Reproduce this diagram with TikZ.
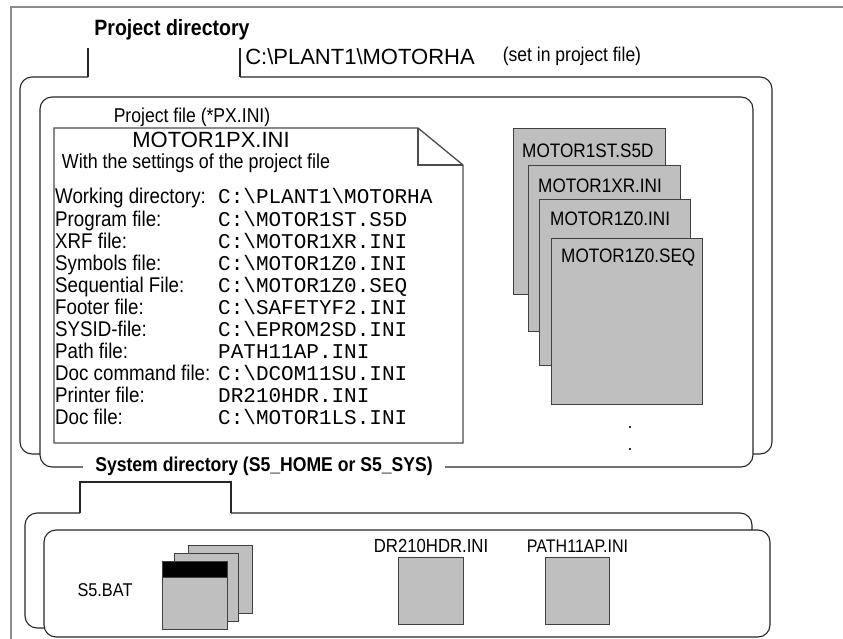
\documentclass[tikz,border=0pt]{standalone}
\usepackage{fontspec}
\setmainfont{Liberation Sans}[FakeStretch=0.88]
\setmonofont{Liberation Mono}
\newfontfamily\widesans{Liberation Sans}
\usetikzlibrary{positioning}

\tikzset{
  frame/.style={draw=black!45, line width=2.4pt},
  folder/.style={draw=black!85, line width=1.1pt, rounded corners=12pt},
  tabline/.style={draw=black!85, line width=1.1pt},
  docline/.style={draw=black!70, line width=1.3pt},
  sheet/.style={draw=black!75, line width=1.1pt, fill=black!25, inner sep=0pt, anchor=north west},
  dirlbl/.style={inner sep=0pt, font=\bfseries\fontsize{#1}{#1}\selectfont},
  txt/.style={inner sep=0pt, font=\fontsize{#1}{#1}\selectfont},
  widetxt/.style={inner sep=0pt, font=\widesans\fontsize{#1}{#1}\selectfont},
  row/.style={txt=21.3, anchor=base west},
  mono/.style={inner sep=0pt, anchor=base west, font=\ttfamily\fontsize{21}{21}\selectfont},
}

\begin{document}
\begin{tikzpicture}[x=1pt, y=-1pt]
        \useasboundingbox (0,0) rectangle (843,639);
        % frame
        \draw[frame] (843,7) -- (11,7) -- (11,639);

        % project directory
        \draw[tabline] (88,48) -- (88,77);\draw[tabline] (240,48) -- (240,77);
        \draw[folder] (88,77) -- (20,77) -- (20,454) -- (772,454) -- (772,77) -- (240,77);
        \draw[folder, fill=white] (40,97) rectangle (753,467);
        \node[dirlbl=22.2] (projdir) at (172,30) {Project directory};
        \node[widetxt=22] (projpath) at (360,57) {C:\textbackslash PLANT1\textbackslash MOTORHA};
        \node[txt=19.9] (projnote) at (572,56) {(set in project file)};

        % project file
        \draw[docline, fill=white] (54,128) -- (418,128) -- (463,165) -- (463,443) -- (54,443) -- cycle;
        \draw[docline] (418,128) -- (418,165) -- (463,165);
        \node[txt=20] (pxfile) at (192,117) {Project file (*PX.INI)};
        \node[widetxt=22, anchor=base] (pxname) at (211,148) {MOTOR1PX.INI};
        \node[txt=20.3, anchor=base] (pxnote) at (196,169) {With the settings of the project file};

        \node[row] (lwork) at (55,204) {Working directory:};
        \node[mono] (vwork) at (218,204) {C:\textbackslash PLANT1\textbackslash MOTORHA};
        \node[row] (lprog) at (55,226) {Program file:};
        \node[mono] (vprog) at (218,226) {C:\textbackslash MOTOR1ST.S5D};
        \node[row] (lxrf) at (55,248) {XRF file:};
        \node[mono] (vxrf) at (218,248) {C:\textbackslash MOTOR1XR.INI};
        \node[row] (lsym) at (55,270) {Symbols file:};
        \node[mono] (vsym) at (218,270) {C:\textbackslash MOTOR1Z0.INI};
        \node[row] (lseq) at (55,292) {Sequential File:};
        \node[mono] (vseq) at (218,292) {C:\textbackslash MOTOR1Z0.SEQ};
        \node[row] (lfoot) at (55,314) {Footer file:};
        \node[mono] (vfoot) at (218,314) {C:\textbackslash SAFETYF2.INI};
        \node[row] (lsysid) at (55,336) {SYSID-file:};
        \node[mono] (vsysid) at (218,336) {C:\textbackslash EPROM2SD.INI};
        \node[row] (lpath) at (55,358) {Path file:};
        \node[mono] (vpath) at (218,358) {PATH11AP.INI};
        \node[row] (ldcom) at (55,380) {Doc command file:};
        \node[mono] (vdcom) at (218,380) {C:\textbackslash DCOM11SU.INI};
        \node[row] (lprn) at (55,402) {Printer file:};
        \node[mono] (vprn) at (218,402) {DR210HDR.INI};
        \node[row] (ldoc) at (55,424) {Doc file:};
        \node[mono] (vdoc) at (218,424) {C:\textbackslash MOTOR1LS.INI};

        % sheets
        \node[sheet, minimum width=152pt, minimum height=166pt] (st) at (513,128) {};
        \node[txt=19.5, anchor=west] (sttxt) at ([xshift=9pt,yshift=-23pt]st.north west) {MOTOR1ST.S5D};
        \node[sheet, minimum width=152pt, minimum height=166pt] (xr) at (528,165) {};
        \node[txt=19.5, anchor=west] (xrtxt) at ([xshift=10pt,yshift=-21pt]xr.north west) {MOTOR1XR.INI};
        \node[sheet, minimum width=151pt, minimum height=166pt] (zini) at (539,199) {};
        \node[txt=19.5, anchor=west] (zinitxt) at ([xshift=11pt,yshift=-20pt]zini.north west) {MOTOR1Z0.INI};
        \node[sheet, minimum width=151pt, minimum height=166pt] (zseq) at (551,238) {};
        \node[txt=19.5, anchor=west] (zseqtxt) at ([xshift=10pt,yshift=-20pt]zseq.north west) {MOTOR1Z0.SEQ};
        \node[fill=black!80, inner sep=0pt, minimum size=2pt] (dota) at (630,427) {};
        \node[fill=black!80, inner sep=0pt, minimum size=2pt] (dotb) at (630,449) {};

        % system directory
        \draw[tabline] (80,513) -- (80,482) -- (231,482) -- (231,513);
        \draw[folder] (80,513) -- (25,513) -- (25,628) -- (752,628) -- (752,513) -- (231,513);
        \draw[folder, fill=white] (44,530) rectangle (770,637);
        \node[dirlbl=20, fill=white, inner xsep=12pt] (sysdir) at (264,466) {System directory (S5\_HOME or S5\_SYS)};

        \node[sheet, minimum width=64pt, minimum height=68pt] (batc) at (188,545) {};
        \node[sheet, minimum width=64pt, minimum height=68pt] (batb) at (174,553) {};
        \node[sheet, minimum width=65pt, minimum height=68pt] (bata) at (162,561) {};
        \node[sheet, fill=black, minimum width=65pt, minimum height=16pt] (batbar) at (162,561) {};
        \node[txt=18.5] (battxt) at (105,590) {S5.BAT};

        \node[sheet, minimum width=65pt, minimum height=67pt] (drbox) at (398,557) {};
        \node[txt=19, above=4pt of drbox] (drtxt) {DR210HDR.INI};
        \node[sheet, minimum width=64pt, minimum height=67pt] (pathbox) at (545,557) {};
        \node[txt=18.2, above=4pt of pathbox] (pathtxt) {PATH11AP.INI};
\end{tikzpicture}
\end{document}
